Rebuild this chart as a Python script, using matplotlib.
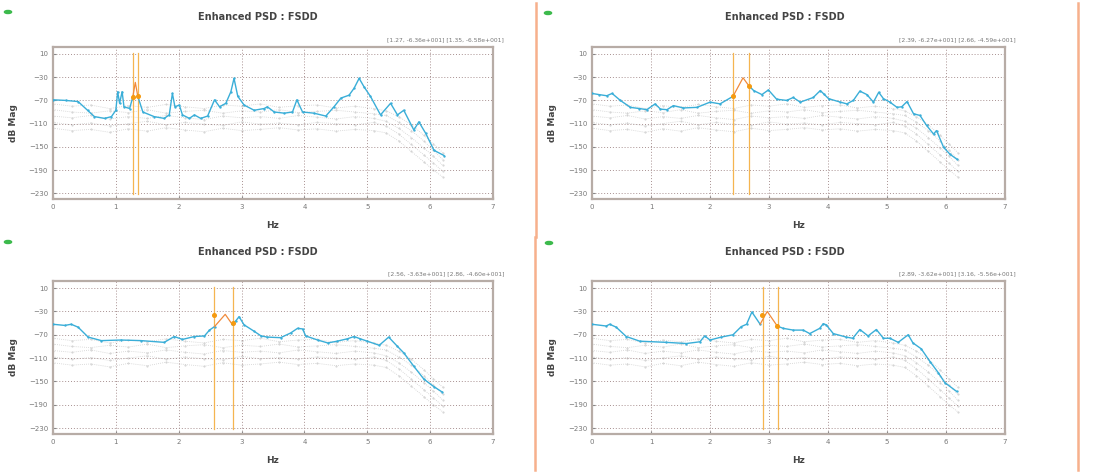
import matplotlib
matplotlib.use("Agg")
import matplotlib.pyplot as plt

# frecuencias / magnitudes (Hz, dB)
titulo = "Enhanced PSD : FSDD"
yticks = [10, -30, -70, -110, -150, -190, -230]
xticks = [0, 1, 2, 3, 4, 5, 6, 7]

# panel 1
p1_x = [0, 0.2, 0.4, 0.55, 0.66, 0.82, 0.93, 1.0, 1.03, 1.06, 1.10, 1.13, 1.22, 1.27]
p1_y = [-69, -70, -72, -87, -98, -101, -98, -87, -55, -75, -55, -81, -84, -64]
p1_xb = [1.35, 1.43, 1.61, 1.77, 1.85, 1.90, 1.94, 2.01, 2.06, 2.17, 2.25, 2.35, 2.46, 2.57,
         2.65, 2.75, 2.83, 2.88, 2.94, 3.04, 3.20, 3.36, 3.41, 3.52, 3.68, 3.81, 3.88, 3.97,
         4.15, 4.34, 4.47, 4.58, 4.71, 4.79, 4.87, 4.95, 5.05, 5.21, 5.37, 5.48, 5.58, 5.74,
         5.82, 5.93, 6.06, 6.22]
p1_yb = [-63, -90, -98, -101, -95, -58, -81, -78, -95, -101, -95, -101, -97, -69,
         -81, -75, -55, -32, -63, -78, -87, -84, -81, -90, -92, -90, -69, -90,
         -92, -97, -81, -66, -61, -49, -32, -47, -63, -95, -75, -95, -87, -121,
         -107, -127, -156, -165]
p1_xo = [1.27, 1.31, 1.35]
p1_yo = [-64, -39, -63]
p1_cursor = [1.27, 1.35]
p1_txt = "[1.27, -6.36e+001] [1.35, -6.58e+001]"

# panel 2
p2_x = [0, 0.12, 0.25, 0.34, 0.48, 0.65, 0.80, 0.93, 1.07, 1.16, 1.27, 1.38, 1.55, 1.78,
        2.0, 2.17, 2.39]
p2_y = [-58, -60, -62, -58, -70, -82, -84, -86, -76, -85, -86, -79, -83, -82,
        -73, -76, -63]
p2_xb = [2.66, 2.74, 2.88, 2.99, 3.13, 3.30, 3.41, 3.53, 3.75, 3.87, 3.93, 4.01, 4.21, 4.32,
         4.43, 4.54, 4.66, 4.77, 4.86, 4.94, 5.05, 5.17, 5.25, 5.34, 5.45, 5.56, 5.67, 5.79,
         5.84, 5.96, 6.07, 6.18]
p2_yb = [-45, -53, -60, -52, -68, -70, -65, -73, -65, -53, -59, -67, -73, -76,
         -70, -54, -60, -73, -56, -67, -73, -82, -81, -72, -93, -96, -113, -128,
         -122, -151, -163, -171]
p2_xo = [2.39, 2.56, 2.66]
p2_yo = [-63, -31, -45]
p2_cursor = [2.39, 2.66]
p2_txt = "[2.39, -6.27e+001] [2.66, -4.59e+001]"

# panel 3
p3_x = [0, 0.19, 0.29, 0.40, 0.56, 0.77, 1.08, 1.40, 1.77, 1.93, 2.06, 2.25, 2.41, 2.49, 2.57]
p3_y = [-52, -54, -52, -57, -74, -80, -79, -80, -83, -73, -78, -73, -72, -62, -56]
p3_xb = [2.85, 2.91, 2.96, 3.04, 3.20, 3.31, 3.41, 3.62, 3.78, 3.89, 3.97, 4.02, 4.21, 4.37,
         4.52, 4.68, 4.79, 4.89, 5.0, 5.19, 5.34, 5.48, 5.58, 5.74, 5.90, 6.06, 6.19]
p3_yb = [-52, -46, -39, -53, -64, -72, -74, -75, -67, -59, -60, -72, -79, -84,
         -81, -77, -73, -77, -81, -88, -74, -90, -101, -124, -146, -159, -168]
p3_xo = [2.57, 2.74, 2.85]
p3_yo = [-56, -35, -52]
p3_pts_x = [2.56, 2.86]
p3_pts_y = [-36.3, -50]
p3_cursor = [2.56, 2.86]
p3_txt = "[2.56, -3.63e+001] [2.86, -4.60e+001]"

# panel 4
p4_x = [0, 0.24, 0.30, 0.41, 0.58, 0.81, 1.26, 1.60, 1.83, 1.91, 2.0, 2.19, 2.39, 2.53,
        2.62, 2.71, 2.85]
p4_y = [-52, -55, -52, -57, -73, -81, -83, -85, -82, -72, -79, -74, -70, -56,
        -52, -31, -52]
p4_xb = [3.14, 3.24, 3.41, 3.58, 3.69, 3.86, 3.92, 3.97, 4.09, 4.31, 4.42, 4.54, 4.68, 4.82,
         4.94, 5.05, 5.19, 5.36, 5.44, 5.58, 5.73, 5.87, 5.98, 6.18]
p4_yb = [-55, -59, -62, -62, -68, -59, -51, -53, -68, -74, -76, -61, -72, -61,
         -76, -76, -83, -70, -84, -94, -116, -135, -152, -167]
p4_xo = [2.85, 2.97, 3.14]
p4_yo = [-52, -30, -55]
p4_pts_x = [2.88, 3.14]
p4_pts_y = [-36.2, -55.6]
p4_cursor = [2.89, 3.16]
p4_txt = "[2.89, -3.62e+001] [3.16, -5.56e+001]"

# trazas grises de fondo (otros valores singulares)
g_x = [0, 0.3, 0.6, 0.9, 1.2, 1.5, 1.8, 2.1, 2.4, 2.7, 3.0, 3.3, 3.6, 3.9, 4.2, 4.5,
       4.8, 5.1, 5.3, 5.5, 5.7, 5.9, 6.05, 6.2]
g1_y = [-76, -80, -78, -84, -79, -82, -77, -81, -84, -78, -80, -76, -82, -79, -78, -83,
        -80, -84, -88, -98, -112, -130, -145, -160]
g2_y = [-86, -90, -92, -88, -91, -86, -92, -89, -87, -92, -88, -90, -86, -91, -89, -87,
        -90, -93, -96, -108, -122, -140, -156, -172]
g3_y = [-97, -100, -96, -102, -98, -101, -96, -100, -103, -97, -100, -98, -101, -96, -99, -102,
        -98, -101, -106, -118, -134, -152, -166, -182]
g4_y = [-108, -112, -109, -114, -110, -106, -112, -108, -111, -113, -107, -111, -109, -112, -108, -110,
        -112, -108, -114, -128, -146, -164, -178, -192]
g5_y = [-118, -122, -120, -125, -119, -123, -117, -121, -124, -118, -122, -120, -117, -121, -119, -123,
        -120, -122, -126, -140, -158, -176, -190, -202]
grises = [g1_y, g2_y, g3_y, g4_y, g5_y]

azul = "#3aaed8"
naranja = "#f08a3c"
gris = "#cfcfcf"


def dibuja_panel(ax, xa, ya, xb, yb, xo, yo, cursor, txt, pts=None):
    for gy in grises:
        ax.plot(g_x, gy, color=gris, lw=0.6, ls=(0, (1, 1.5)), marker=".", ms=1.0, zorder=1)
    for c in cursor:
        ax.plot([c, c], [12, -232], color="#f5b550", lw=0.9, zorder=2)
    ax.plot(xa, ya, color=azul, lw=1.0, marker=".", ms=1.4, zorder=3)
    ax.plot(xb, yb, color=azul, lw=1.0, marker=".", ms=1.4, zorder=3)
    ax.plot(xo, yo, color=naranja, lw=0.9, zorder=4)
    if pts is None:
        ax.plot([xo[0], xo[-1]], [yo[0], yo[-1]], ls="none", marker="o", ms=2.6,
                color="#f59a10", zorder=5)
    else:
        ax.plot(pts[0], pts[1], ls="none", marker="o", ms=2.6, color="#f59a10", zorder=5)

    ax.set_xlim(0, 7)
    ax.set_ylim(-240, 22)
    ax.set_xticks(xticks)
    ax.set_yticks(yticks)
    ax.grid(True, color="#a89090", ls=(0, (1, 2)), lw=0.7)
    ax.tick_params(labelsize=5, colors="#888888", labelcolor="#777777", length=2, direction="in")
    for s in ax.spines.values():
        s.set_color("#b7aca6")
        s.set_linewidth(1.6)
    ax.set_xlabel("Hz", fontsize=6.5, fontweight="bold", color="#444444", labelpad=8)
    ax.set_ylabel("dB Mag", fontsize=6.5, fontweight="bold", color="#444444", labelpad=8)
    ax.text(1.025, 1.03, txt, transform=ax.transAxes, ha="right", va="bottom",
            fontsize=4.3, color="#777777")


fig = plt.figure(figsize=(11.17, 4.75), dpi=100)

ax1 = fig.add_axes([0.0474, 0.581, 0.394, 0.320])
ax2 = fig.add_axes([0.530, 0.581, 0.3697, 0.320])
ax3 = fig.add_axes([0.0474, 0.0863, 0.394, 0.322])
ax4 = fig.add_axes([0.530, 0.0863, 0.3697, 0.322])

dibuja_panel(ax1, p1_x, p1_y, p1_xb, p1_yb, p1_xo, p1_yo, p1_cursor, p1_txt)
dibuja_panel(ax2, p2_x, p2_y, p2_xb, p2_yb, p2_xo, p2_yo, p2_cursor, p2_txt)
dibuja_panel(ax3, p3_x, p3_y, p3_xb, p3_yb, p3_xo, p3_yo, p3_cursor, p3_txt, (p3_pts_x, p3_pts_y))
dibuja_panel(ax4, p4_x, p4_y, p4_xb, p4_yb, p4_xo, p4_yo, p4_cursor, p4_txt, (p4_pts_x, p4_pts_y))

# titulos
for xt, yt in [(258 / 1117, 1 - 17 / 475), (785 / 1117, 1 - 17 / 475),
               (258 / 1117, 1 - 252 / 475), (785 / 1117, 1 - 252 / 475)]:
    fig.text(xt, yt, titulo, ha="center", va="center", fontsize=7, fontweight="bold", color="#444444")

# puntos verdes
for xg, yg in [(8, 12), (548, 13), (8, 242), (549, 243)]:
    fig.patches.append(matplotlib.patches.Circle((xg / 1117, 1 - yg / 475), 0.0032,
                                                 transform=fig.transFigure, color="#3cba4c"))

# separadores naranjas
fig.add_artist(plt.Line2D([536 / 1117, 536 / 1117], [1 - 3 / 475, 1 - 237 / 475],
                          transform=fig.transFigure, color="#f7b08c", lw=1.8))
fig.add_artist(plt.Line2D([535 / 1117, 535 / 1117], [1 - 237 / 475, 1 - 470 / 475],
                          transform=fig.transFigure, color="#f7b08c", lw=1.8))
fig.add_artist(plt.Line2D([1078 / 1117, 1078 / 1117], [1 - 3 / 475, 1 - 470 / 475],
                          transform=fig.transFigure, color="#f7b08c", lw=1.8))

fig.savefig("out.png", dpi=100)
